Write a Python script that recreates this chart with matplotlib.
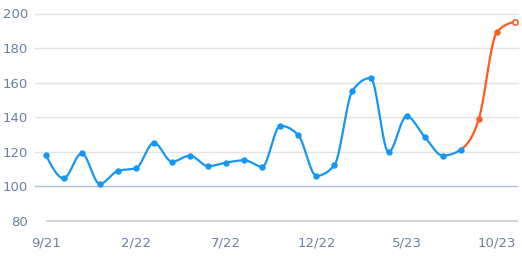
import numpy as np
import matplotlib
matplotlib.use("Agg")
import matplotlib.pyplot as plt

# Monthly values, 9/21 .. 11/23
months = ["9/21", "10/21", "11/21", "12/21", "1/22", "2/22", "3/22", "4/22", "5/22",
          "6/22", "7/22", "8/22", "9/22", "10/22", "11/22", "12/22", "1/23", "2/23",
          "3/23", "4/23", "5/23", "6/23", "7/23", "8/23", "9/23", "10/23", "11/23"]
values = [118.4, 104.7, 119.2, 101.4, 109, 110.5, 125.3, 114.3, 117.8, 111.7, 113.8,
          115.1, 111.4, 135.1, 129.6, 106.1, 112.3, 155.4, 162.7, 119.8, 140.6, 128.6,
          117.8, 121.3, 139, 189.3, 195.3]
forecast_start = 23  # orange from here on
shown_labels = ["9/21", "2/22", "7/22", "12/22", "5/23", "10/23"]

blue = "#1597f2"
orange = "#ff5a1f"
label_color = "#6c7fa1"


def monotone(xs, ys, n=24):
    # monotone cubic (same idea as d3 curveMonotoneX), only for drawing the line
    xs = np.asarray(xs, float)
    ys = np.asarray(ys, float)
    h = np.diff(xs)
    s = np.diff(ys) / h
    m = np.zeros(len(xs))
    for i in range(1, len(xs) - 1):
        p = (s[i - 1] * h[i] + s[i] * h[i - 1]) / (h[i - 1] + h[i])
        m[i] = (np.sign(s[i - 1]) + np.sign(s[i])) * min(abs(s[i - 1]), abs(s[i]), 0.5 * abs(p))
    m[0] = (3 * s[0] - m[1]) / 2
    m[-1] = (3 * s[-1] - m[-2]) / 2
    px, py = [], []
    for i in range(len(xs) - 1):
        t = np.linspace(0, 1, n)
        h00 = 2 * t**3 - 3 * t**2 + 1
        h10 = t**3 - 2 * t**2 + t
        h01 = -2 * t**3 + 3 * t**2
        h11 = t**3 - t**2
        px.extend(xs[i] + t * h[i])
        py.extend(h00 * ys[i] + h10 * h[i] * m[i] + h01 * ys[i + 1] + h11 * h[i] * m[i + 1])
    return np.array(px), np.array(py)


x = np.arange(len(values))
sx, sy = monotone(x, values)

fig = plt.figure(figsize=(5.22, 2.6), dpi=100)
ax = fig.add_axes([35 / 522, 39 / 260, 483 / 522, 207.5 / 260])
ax.set_xlim(-0.59, 26.17)
ax.set_ylim(80, 200)

for v in [120, 140, 160, 180, 200]:
    ax.axhline(v, color="#e3e3e3", lw=1, zorder=0, clip_on=False)
ax.axhline(100, color="#aebdd6", lw=1, zorder=0)
ax.hlines(80, 0, 26.17, color="#d0d0d0", lw=1.2, zorder=0, clip_on=False)

ax.plot(sx[sx <= forecast_start], sy[sx <= forecast_start], color=blue, lw=1.6, zorder=2)
ax.plot(sx[sx >= forecast_start], sy[sx >= forecast_start], color=orange, lw=1.6, zorder=2)
ax.plot(x[:forecast_start + 1], values[:forecast_start + 1], "o", color=blue, ms=3.6, zorder=3)
ax.plot(x[forecast_start + 1:-1], values[forecast_start + 1:-1], "o", color=orange, ms=3.6, zorder=3)
ax.plot(x[-1], values[-1], "o", mfc="white", mec=orange, mew=1.2, ms=3.8, zorder=3)

for s in ax.spines.values():
    s.set_visible(False)
ax.set_yticks([80, 100, 120, 140, 160, 180, 200])
ax.set_xticks([months.index(m) for m in shown_labels])
ax.set_xticklabels(shown_labels)
ax.tick_params(length=0, labelsize=9.5, labelcolor=label_color)
ax.tick_params(axis="y", pad=5)
ax.tick_params(axis="x", pad=11)

fig.savefig("out.png", dpi=100)
